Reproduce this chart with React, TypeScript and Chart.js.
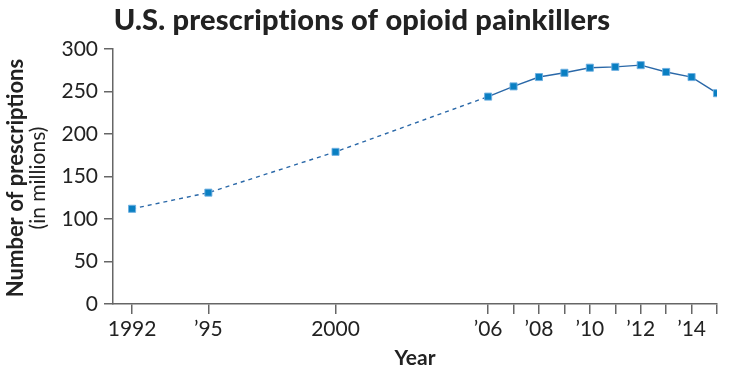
import React, { useEffect, useRef } from "react";
import { Chart, registerables } from "chart.js";

Chart.register(...registerables);

const years = [1992, 1995, 2000, 2006, 2007, 2008, 2009, 2010, 2011, 2012, 2013, 2014, 2015];
const prescriptions = [112, 131, 179, 244, 256, 267, 272, 278, 279, 281, 273, 267, 248];
const tickYears = [1992, 1995, 2000, 2006, 2007, 2008, 2009, 2010, 2011, 2012, 2013, 2014, 2015];
const tickLabels: Record<number, string> = {
  1992: "1992",
  1995: "\u201995",
  2000: "2000",
  2006: "\u201906",
  2008: "\u201908",
  2010: "\u201910",
  2012: "\u201912",
  2014: "\u201914",
};
const yTicks = [0, 50, 100, 150, 200, 250, 300];
const titleText = "U.S. prescriptions of opioid painkillers";
const yTitle1 = "Number of prescriptions";
const yTitle2 = "(in millions)";
const xTitle = "Year";

const textPlugin = {
  id: "customText",
  afterDraw(chart: any) {
    const ctx = chart.ctx;
    const area = chart.chartArea;
    ctx.save();
    ctx.fillStyle = "#222";
    ctx.textAlign = "center";
    ctx.textBaseline = "middle";
    try {
      ctx.letterSpacing = "0.2px";
    } catch (e) {}
    ctx.font = "900 29px Lato";
    ctx.fillText(titleText, 362, 21);
    try {
      ctx.letterSpacing = "0px";
    } catch (e) {}
    ctx.font = "bold 21px Lato";
    ctx.fillText(xTitle, (area.left + area.right) / 2, 358);
    ctx.translate(16, 178);
    ctx.rotate(-Math.PI / 2);
    ctx.font = "bold 22px Lato";
    ctx.fillText(yTitle1, 0, 0);
    ctx.font = "normal 21px Lato";
    ctx.fillText(yTitle2, 0, 22);
    ctx.restore();
  },
};

export default function App() {
  const ref = useRef<HTMLCanvasElement>(null);
  useEffect(() => {
    document.body.style.margin = "0";
    const chart = new Chart(ref.current!, {
      type: "line",
      data: {
        datasets: [
          {
            data: years.map((y, i) => ({ x: y, y: prescriptions[i] })),
            borderColor: "#2a68a8",
            borderWidth: 1.4,
            pointStyle: "rect",
            pointRadius: 5,
            pointBackgroundColor: "#0a7fc2",
            pointBorderColor: "rgba(110,175,225,0.9)",
            pointBorderWidth: 1,
            segment: {
              borderDash: (c: any) => (c.p1.parsed.x <= 2006 ? [4, 4] : undefined),
            },
          },
        ],
      },
      options: {
        animation: false,
        responsive: false,
        layout: { padding: { top: 49, right: 13, left: 0, bottom: 0 } },
        plugins: { legend: { display: false }, tooltip: { enabled: false } },
        scales: {
          x: {
            type: "linear",
            min: 1991.25,
            max: 2015,
            afterFit: (s: any) => {
              s.height = 66;
            },
            afterBuildTicks: (s: any) => {
              s.ticks = tickYears.map((v) => ({ value: v }));
            },
            grid: {
              drawOnChartArea: false,
              tickLength: 10,
              tickColor: "#666",
              lineWidth: 1.5,
            },
            border: { color: "#666", width: 1.5 },
            ticks: {
              autoSkip: false,
              maxRotation: 0,
              padding: 3,
              color: "#222",
              font: { family: "Lato", size: 21 },
              callback: (v: any) => tickLabels[v as number] ?? "",
            },
          },
          y: {
            min: 0,
            max: 300,
            afterFit: (s: any) => {
              s.width = 113;
            },
            afterBuildTicks: (s: any) => {
              s.ticks = yTicks.map((v) => ({ value: v }));
            },
            grid: {
              drawOnChartArea: false,
              tickLength: 9,
              tickColor: "#666",
              lineWidth: 1.5,
            },
            border: { color: "#666", width: 1.5 },
            ticks: {
              padding: 6,
              color: "#222",
              font: { family: "Lato", size: 21 },
            },
          },
        },
      },
      plugins: [textPlugin],
    });
    return () => chart.destroy();
  }, []);
  return (
    <div style={{ position: "absolute", left: 0, top: 0, width: 730, height: 370 }}>
      <canvas ref={ref} width={730} height={370} />
    </div>
  );
}
